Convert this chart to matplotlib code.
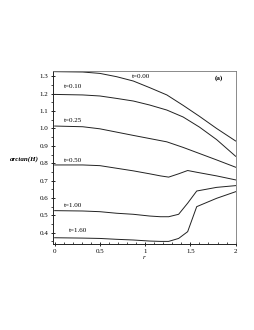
import matplotlib
matplotlib.use("Agg")
import matplotlib.pyplot as plt
from matplotlib.ticker import MultipleLocator, FuncFormatter

plt.rcParams['font.family'] = 'Liberation Serif'
plt.rcParams['font.size'] = 5

# radial positions (upper, smooth profiles)
r_upper = [0.0, 0.31, 0.5, 0.685, 0.87, 1.05, 1.24, 1.42, 1.6, 1.79, 2.0]
h_t000 = [1.327, 1.325, 1.317, 1.298, 1.273, 1.235, 1.193, 1.133, 1.070, 1.000, 0.928]
h_t010 = [1.196, 1.193, 1.187, 1.173, 1.158, 1.135, 1.106, 1.066, 1.008, 0.936, 0.840]
h_t025 = [1.014, 1.010, 0.998, 0.979, 0.960, 0.942, 0.923, 0.891, 0.856, 0.819, 0.777]

# radial positions for the lower profiles (with the front near r=1.5)
r_lower = [0.0, 0.31, 0.5, 0.685, 0.87, 1.05, 1.17, 1.26, 1.37, 1.47, 1.57, 1.79, 2.0]
h_t050 = [0.790, 0.790, 0.786, 0.771, 0.756, 0.739, 0.727, 0.720, 0.739, 0.758, 0.748, 0.727, 0.704]
h_t100 = [0.527, 0.525, 0.521, 0.512, 0.506, 0.496, 0.492, 0.492, 0.506, 0.570, 0.640, 0.661, 0.671]
h_t160 = [0.371, 0.369, 0.367, 0.362, 0.358, 0.352, 0.350, 0.350, 0.367, 0.406, 0.550, 0.598, 0.636]

series = [(r_upper, h_t000), (r_upper, h_t010), (r_upper, h_t025),
          (r_lower, h_t050), (r_lower, h_t100), (r_lower, h_t160)]
labels = ["t=0.00", "t=0.10", "t=0.25", "t=0.50", "t=1.00", "t=1.60"]
label_pos = [(0.954, 1.297), (0.208, 1.241), (0.208, 1.048),
             (0.202, 0.814), (0.202, 0.554), (0.257, 0.411)]

fig = plt.figure(figsize=(2.55, 3.30), dpi=100)
ax = fig.add_axes([0.209, 0.2606, 0.715, 0.5254])

for rr, h in series:
    ax.plot(rr, h, color='#222222', lw=0.7)

for lab, (x, y) in zip(labels, label_pos):
    ax.text(x, y, lab, ha='center', va='center', fontsize=5)

ax.text(1.82, 1.292, "(a)", ha='center', va='center', fontsize=5, fontweight='bold')

ax.set_xlim(-0.015, 2.0)
ax.set_ylim(0.335, 1.333)

ax.xaxis.set_major_locator(MultipleLocator(0.5))
ax.xaxis.set_minor_locator(MultipleLocator(0.1))
ax.yaxis.set_major_locator(MultipleLocator(0.1))
ax.yaxis.set_minor_locator(MultipleLocator(0.05))
ax.xaxis.set_major_formatter(FuncFormatter(lambda v, p: "%g" % round(v, 2)))
ax.yaxis.set_major_formatter(FuncFormatter(lambda v, p: "%.1f" % v))

ax.tick_params(which='major', direction='inout', length=3, width=0.6, pad=2, labelsize=5)
ax.tick_params(which='minor', direction='in', length=1.5, width=0.5)
ax.tick_params(axis='y', which='minor', direction='out')

for side in ['top', 'right']:
    ax.spines[side].set_color('#777777')
    ax.spines[side].set_linewidth(0.6)
for side in ['left', 'bottom']:
    ax.spines[side].set_color('#222222')
    ax.spines[side].set_linewidth(0.7)

ax.set_xlabel("r", fontstyle='italic', fontsize=5, labelpad=1)
fig.text(24.5 / 255, 1 - 159.3 / 330, "arctan(H)", ha='center', va='center',
         fontsize=5, fontstyle='italic', fontweight='bold')

fig.savefig("out.png", dpi=100)
